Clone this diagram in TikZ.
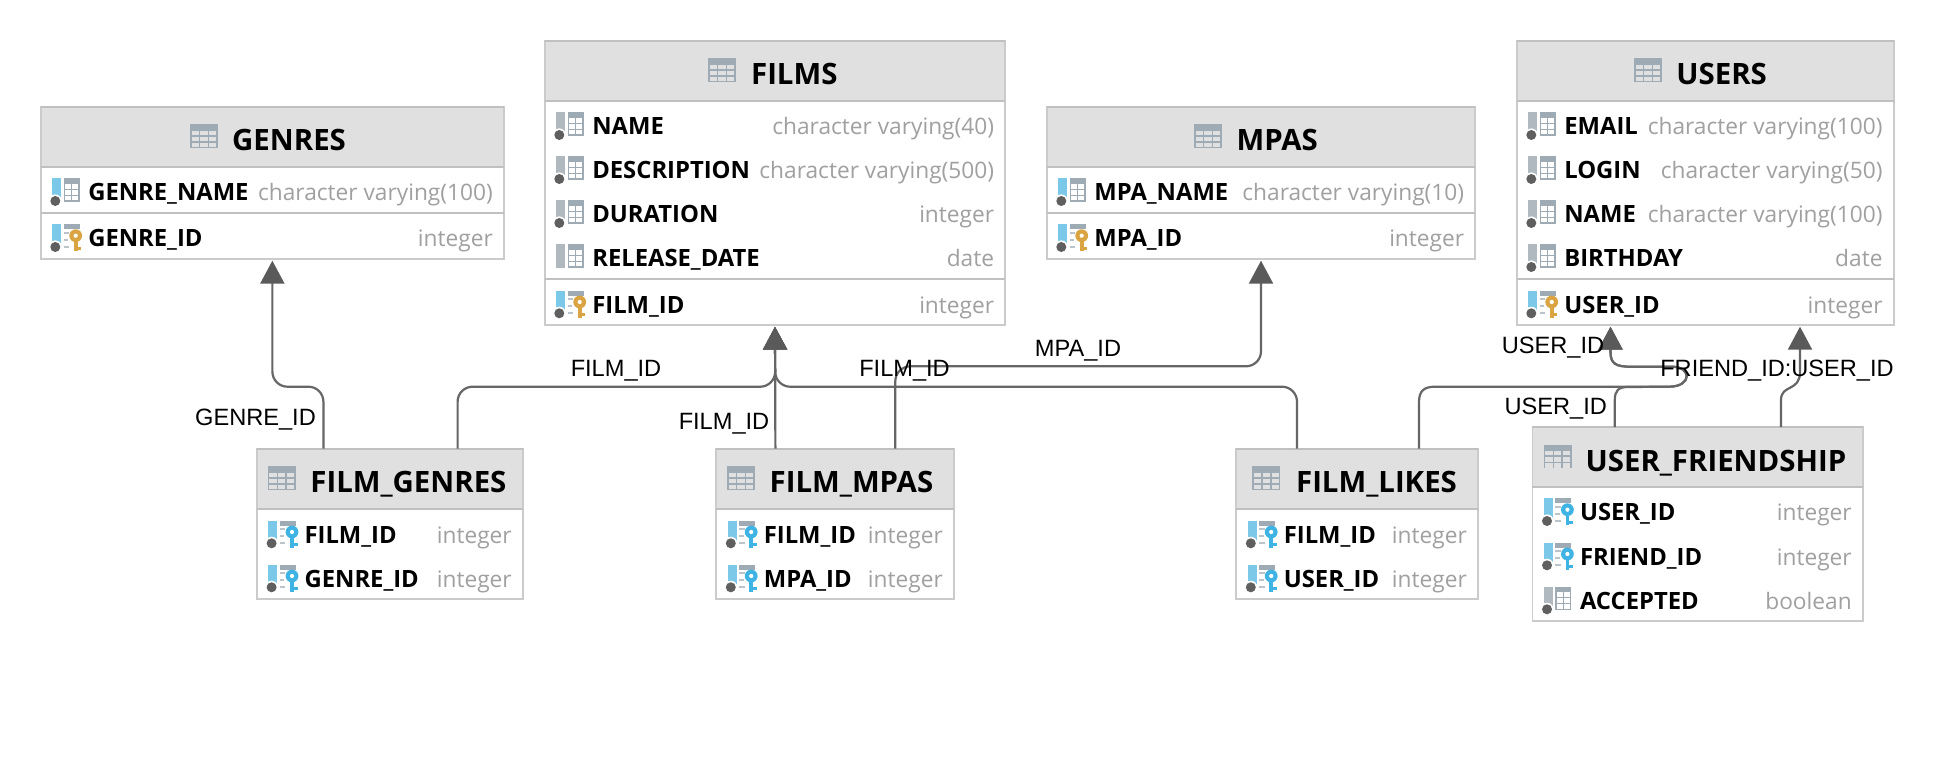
\documentclass[tikz,border=0pt]{standalone}
\usepackage{fontspec}
\usetikzlibrary{arrows.meta}
\setmainfont{Liberation Sans}
\newfontfamily\erfont{Open Sans}
\definecolor{conn}{HTML}{666666}
\definecolor{tip}{HTML}{5A5A5A}
\definecolor{bord}{HTML}{CBCBCB}
\definecolor{heada}{HTML}{E0E0E0}
\definecolor{sepc}{HTML}{C0C0C0}
\definecolor{typec}{HTML}{A0A0A0}
\definecolor{icong}{HTML}{9EAAB4}
\definecolor{barg}{HTML}{AFB9BF}
\definecolor{barb}{HTML}{7BC8E8}
\definecolor{keyo}{HTML}{D9A441}
\definecolor{keyb}{HTML}{3FB4E4}
\definecolor{dotc}{HTML}{5F5F5F}
\tikzset{
  tbox/.style={draw=bord,line width=1.8pt,inner sep=0pt,outer sep=0pt,fill=white},
  thead/.style={fill=heada,draw=none,inner sep=0pt,outer sep=0pt},
  seprule/.style={draw=sepc,line width=2.4pt},
  ttitle/.style={anchor=base west,inner sep=0pt,text=black,font=\erfont\bfseries\fontsize{29.4}{30}\selectfont},
  cname/.style={anchor=base west,inner sep=0pt,text=black,font=\erfont\bfseries\fontsize{23.8}{25}\selectfont},
  ctype/.style={anchor=base east,inner sep=0pt,text=typec,font=\erfont\fontsize{22.7}{25}\selectfont},
  linelabel/.style={inner sep=0pt,yshift=-3pt,text=black,font=\fontsize{23.6}{24}\selectfont},
  conn/.style={draw=conn,line width=2.2pt,rounded corners=15pt},
  arrowed/.style={-{Triangle[length=23pt,width=24pt,color=tip]}}
}
% table frame: id, left, top, right, bottom, header bottom
\newcommand{\ertable}[6]{%
  \pgfmathsetmacro{\cxx}{(#2+#4)/2}\pgfmathsetmacro{\cyy}{(#3+#5)/2}%
  \pgfmathsetmacro{\ww}{#4-#2}\pgfmathsetmacro{\hh}{#5-#3}\pgfmathsetmacro{\hhh}{#6-#3}%
  \pgfmathsetmacro{\cyh}{(#3+#6)/2}%
  \node[tbox,minimum width=\ww pt,minimum height=\hh pt] (#1) at (\cxx,\cyy) {};
  \node[thead,minimum width=\ww pt,minimum height=\hhh pt] (#1-head) at (\cxx,\cyh) {};
  \draw[draw=bord,line width=1.8pt] (#1.south west) rectangle (#1.north east);
  \draw[sepc,line width=1.8pt] (#1.north west) -- (#1.north east);
  \draw[seprule] (#1.west |- #1-head.south) -- (#1.east |- #1-head.south);
}
% header icon and title: id, icon x, text x, top, text
\newcommand{\ertitle}[5]{%
  \begin{scope}[shift={(#2,#4)}]
    \fill[icong] (0,17.6) rectangle (28,41.4);
    \foreach \yy in {24,30.2,36.2}{\foreach \xx in {1.6,10.4,19.2}{\fill[heada] (\xx,\yy) rectangle ++(7.2,4.4);}}
  \end{scope}
  \pgfmathsetmacro{\bl}{#4+44}%
  \pgfmathsetmacro{\tlx}{#3-0.8}%
  \node[ttitle] (#1-title) at (\tlx,\bl) {#5};
}
\newcommand{\icbar}[1]{\fill[#1] (0,-13.5) rectangle (9,10);}
\newcommand{\icdot}{\fill[white] (3.3,9.3) circle (6.6);\fill[dotc] (3.3,9.3) circle (5);}
\newcommand{\ictable}{%
  \fill[icong] (11.7,-13.5) rectangle (27.7,-8.5);
  \draw[icong,line width=1.3pt] (12.3,-8.5) rectangle (27.1,9.4);
  \draw[icong,line width=1.3pt] (12.3,-2.5) -- (27.1,-2.5) (12.3,3.5) -- (27.1,3.5) (19.7,-8.5) -- (19.7,9.4);
}
\newcommand{\ickey}[1]{%
  \fill[icong] (11.7,-13.5) rectangle (27.7,-8.5);
  \draw[icong!70,line width=1.8pt] (11.7,-5) -- (17,-5) (11.7,2) -- (16,2) (11.7,9) -- (17,9);
  \fill[#1] (23.7,-2) circle (6.4);
  \fill[#1] (21.9,-2) rectangle (25.5,13.6);
  \fill[#1] (25.5,9.2) rectangle (29.4,12.2);
  \fill[white] (23.7,-2) circle (2.1);
}
\newcommand{\iconC}{\icbar{barg}\icdot\ictable}
\newcommand{\iconN}{\icbar{barg}\ictable}
\newcommand{\iconB}{\icbar{barb}\icdot\ictable}
\newcommand{\iconP}{\icbar{barb}\icdot\ickey{keyo}}
\newcommand{\iconF}{\icbar{barb}\icdot\ickey{keyb}}
% row: id, left, right, y, icon, name, type
\newcommand{\ercol}[7]{%
  \pgfmathsetmacro{\icx}{#2+11.3}\pgfmathsetmacro{\nx}{#2+47.4}\pgfmathsetmacro{\tx}{#3-11}\pgfmathsetmacro{\by}{#4+9}%
  \begin{scope}[shift={(\icx,#4)}]#5\end{scope}
  \node[cname] (#1-n) at (\nx,\by) {#6};
  \node[ctype] (#1-t) at (\tx,\by) {#7};
}
\begin{document}
\begin{tikzpicture}[x=1pt,y=-1pt]
\useasboundingbox (0,0) rectangle (1946,784);
\fill[white] (0,0) rectangle (1946,784);

% GENRES
\ertable{genres}{40.7}{106.7}{504}{259.3}{166.7}
\ertitle{genres}{190}{232.8}{106.7}{GENRES}
\ercol{g1}{40.7}{504}{191.7}{\iconB}{GENRE\_NAME}{character varying(100)}
\ercol{g2}{40.7}{504}{237.7}{\iconP}{GENRE\_ID}{integer}
\draw[seprule] (genres.west |- 0,212.7) -- (genres.east |- 0,212.7);

% FILMS
\ertable{films}{544.7}{40.7}{1005.3}{325.3}{100.7}
\ertitle{films}{708}{751.7}{40.7}{FILMS}
\ercol{f1}{544.7}{1005.3}{125.7}{\iconC}{NAME}{character varying(40)}
\ercol{f2}{544.7}{1005.3}{169.7}{\iconC}{DESCRIPTION}{character varying(500)}
\ercol{f3}{544.7}{1005.3}{213.7}{\iconC}{DURATION}{integer}
\ercol{f4}{544.7}{1005.3}{257.7}{\iconN}{RELEASE\_DATE}{date}
\ercol{f5}{544.7}{1005.3}{304}{\iconP}{FILM\_ID}{integer}
\draw[seprule] (films.west |- 0,278.7) -- (films.east |- 0,278.7);

% MPAS
\ertable{mpas}{1046.7}{106.7}{1475.3}{259.3}{166.7}
\ertitle{mpas}{1194}{1237.3}{106.7}{MPAS}
\ercol{m1}{1046.7}{1475.3}{191.7}{\iconB}{MPA\_NAME}{character varying(10)}
\ercol{m2}{1046.7}{1475.3}{237.7}{\iconP}{MPA\_ID}{integer}
\draw[seprule] (mpas.west |- 0,212.7) -- (mpas.east |- 0,212.7);

% USERS
\ertable{users}{1516.7}{40.7}{1893.7}{325.3}{100.7}
\ertitle{users}{1634}{1677}{40.7}{USERS}
\ercol{u1}{1516.7}{1893.7}{125.7}{\iconC}{EMAIL}{character varying(100)}
\ercol{u2}{1516.7}{1893.7}{169.7}{\iconC}{LOGIN}{character varying(50)}
\ercol{u3}{1516.7}{1893.7}{213.7}{\iconC}{NAME}{character varying(100)}
\ercol{u4}{1516.7}{1893.7}{257.7}{\iconC}{BIRTHDAY}{date}
\ercol{u5}{1516.7}{1893.7}{304}{\iconP}{USER\_ID}{integer}
\draw[seprule] (users.west |- 0,278.7) -- (users.east |- 0,278.7);

% FILM_GENRES
\ertable{fgenres}{257}{448.7}{522.9}{599.3}{508.7}
\ertitle{fgenres}{267.8}{311}{448.7}{FILM\_GENRES}
\ercol{fg1}{257}{522.9}{534}{\iconF}{FILM\_ID}{integer}
\ercol{fg2}{257}{522.9}{578}{\iconF}{GENRE\_ID}{integer}

% FILM_MPAS
\ertable{fmpas}{716.2}{448.7}{954}{599.3}{508.7}
\ertitle{fmpas}{727}{770.3}{448.7}{FILM\_MPAS}
\ercol{fm1}{716.2}{954}{534}{\iconF}{FILM\_ID}{integer}
\ercol{fm2}{716.2}{954}{578}{\iconF}{MPA\_ID}{integer}

% FILM_LIKES
\ertable{flikes}{1236.2}{448.7}{1478}{599.3}{508.7}
\ertitle{flikes}{1252.4}{1296.7}{448.7}{FILM\_LIKES}
\ercol{fl1}{1236.2}{1478}{534}{\iconF}{FILM\_ID}{integer}
\ercol{fl2}{1236.2}{1478}{578}{\iconF}{USER\_ID}{integer}

% USER_FRIENDSHIP
\ertable{ufriend}{1532.4}{427}{1862.9}{621.3}{487}
\ertitle{ufriend}{1543.8}{1586.2}{427}{USER\_FRIENDSHIP}
\ercol{uf1}{1532.4}{1862.9}{511.7}{\iconF}{USER\_ID}{integer}
\ercol{uf2}{1532.4}{1862.9}{556}{\iconF}{FRIEND\_ID}{integer}
\ercol{uf3}{1532.4}{1862.9}{600}{\iconC}{ACCEPTED}{boolean}

% anchors of the connectors along the table edges
\coordinate (xGenre) at (323.4,0);
\coordinate (xFG) at (457.6,0);
\coordinate (xFM) at (775.4,0);
\coordinate (xFMM) at (895.3,0);
\coordinate (xFLF) at (1297,0);
\coordinate (xFLU) at (1419,0);
\coordinate (xUFU) at (1614.8,0);
\coordinate (xUFF) at (1781,0);
\coordinate (xUa) at (1610.5,0);
\coordinate (xUb) at (1800,0);
\coordinate (tipG) at ([yshift=-1.4pt]genres.south);
\coordinate (tipF) at ([yshift=-1.4pt]films.south);
\coordinate (tipM) at ([yshift=-1.4pt]mpas.south);
\coordinate (tipUa) at ([yshift=-1.4pt]xUa |- users.south);
\coordinate (tipUb) at ([yshift=-1.4pt]xUb |- users.south);

\draw[conn,arrowed] (xGenre |- fgenres.north) -- (323.4,386.7) -- (272.4,386.7) -- (tipG);
\draw[conn,arrowed] (xFG |- fgenres.north) -- (457.6,386.7) -- (775.2,386.7) -- (tipF);
\draw[conn,arrowed] (xFM |- fmpas.north) -- (tipF);
\draw[conn,arrowed] (xFLF |- flikes.north) -- (1297,386.7) -- (775.2,386.7) -- (tipF);
\draw[conn,arrowed] (xFMM |- fmpas.north) -- (895.3,366.3) -- (1261,366.3) -- (tipM);
\draw[conn,arrowed,rounded corners=0pt] (xFLU |- flikes.north) -- (1419,402)
  .. controls (1419,391) and (1424,386.7) .. (1435,386.7) -- (1669,386.7)
  .. controls (1692,386.7) and (1692,366.7) .. (1672,366.7) -- (1631,366.7)
  .. controls (1616,366.7) and (1610.5,364) .. (1610.5,352) -- (tipUa);
\draw[conn,arrowed,rounded corners=0pt] (xUFU |- ufriend.north) -- (1614.8,400)
  .. controls (1614.8,391) and (1618,387) .. (1628,387) -- (1669,386.7)
  .. controls (1692,386.7) and (1692,366.7) .. (1672,366.7) -- (1631,366.7)
  .. controls (1616,366.7) and (1610.5,364) .. (1610.5,352) -- (tipUa);
\draw[conn,arrowed,rounded corners=0pt] (xUFF |- ufriend.north) -- (1781,400)
  .. controls (1781,384) and (1800,392) .. (1800,372) -- (tipUb);

% connector labels
\node[linelabel] (lGenre) at (255.5,416.7) {GENRE\_ID};
\node[linelabel] (lF1) at (616,368) {FILM\_ID};
\node[linelabel] (lF2) at (724,420.7) {FILM\_ID};
\node[linelabel] (lF3) at (904.5,368) {FILM\_ID};
\node[linelabel] (lM) at (1078,348) {MPA\_ID};
\node[linelabel] (lU1) at (1553,345) {USER\_ID};
\node[linelabel] (lU2) at (1555.7,405.7) {USER\_ID};
\node[linelabel] (lUF) at (1777,368) {FRIEND\_ID:USER\_ID};
\end{tikzpicture}
\end{document}
